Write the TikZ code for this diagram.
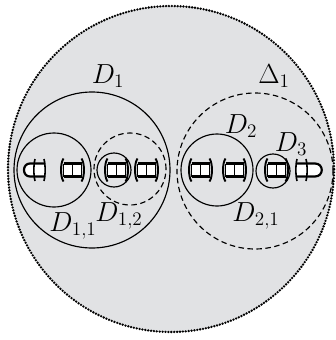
\documentclass[tikz,border=0pt]{standalone}
\usepackage{graphicx}
\definecolor{bggray}{RGB}{225,226,228}
\newcommand\biglab[1]{\scalebox{1.33}{\huge$#1$}}
\begin{document}
\begin{tikzpicture}[x=1pt,y=-1pt,
  circ/.style={line width=1.15pt},
  dcirc/.style={line width=1.15pt, dash pattern=on 5.5pt off 3.5pt},
  lab/.style={inner sep=0pt},
  bandline/.style={line width=2.2pt},
  barline/.style={line width=1.6pt},
  arcline/.style={line width=1.9pt},
  dotborder/.style={line width=2.6pt, dash pattern=on 0pt off 2.9pt, line cap=round}]
\useasboundingbox (0,0) rectangle (336,340);
% outer disk
\fill[bggray] (171,169) circle (163pt);
\draw[dotborder] (171,169) circle (163pt);
% chain units
\foreach \a/\b in {61/84,105/128,135/158,189/212,223/246,265/288}{
  \pgfmathsetmacro\m{(\a+\b)/2}
  \fill[white] (\a+2.5,163.5) rectangle (\b-2.5,176.5);
  \draw[bandline] (\a+2.5,163.5) -- (\b-2.5,163.5) (\a+2.5,176.5) -- (\b-2.5,176.5);
  \draw[barline] (\a+2.5,163.5) -- (\a+2.5,176.5) (\m,163.5) -- (\m,176.5) (\b-2.5,163.5) -- (\b-2.5,176.5);
  \draw[arcline] (\a+2.5,158.5) .. controls (\a-0.8,163) and (\a-0.8,177) .. (\a+2.5,181.5);
  \draw[arcline] (\b-2.5,158.5) .. controls (\b+0.8,163) and (\b+0.8,177) .. (\b-2.5,181.5);
}
% left end
\fill[white] (45,163.5) -- (30,163.5) .. controls (22,163.5) and (22,176.5) .. (30,176.5) -- (45,176.5) -- cycle;
\draw[bandline] (45,163.5) -- (30,163.5) .. controls (22,163.5) and (22,176.5) .. (30,176.5) -- (45,176.5);
\draw[barline] (35,159) .. controls (33.5,165) and (33.5,175) .. (35,181);
\draw[barline] (44,159) .. controls (45.5,165) and (45.5,175) .. (44,181);
% right end
\fill[white] (296,163.5) -- (315,163.5) .. controls (324,163.5) and (324,176.5) .. (315,176.5) -- (296,176.5) -- cycle;
\draw[bandline] (296,163.5) -- (315,163.5) .. controls (324,163.5) and (324,176.5) .. (315,176.5) -- (296,176.5);
\draw[barline] (297,159) .. controls (295.5,165) and (295.5,175) .. (297,181);
\draw[barline] (306,159) .. controls (307.5,165) and (307.5,175) .. (306,181);
% circles
\draw[circ] (92,170) circle (78pt);
\draw[circ] (54,170) circle (37pt);
\draw[dcirc] (130,169) circle (36pt);
\draw[circ] (114,170) circle (17pt);
\draw[dcirc] (255,171) circle (78pt);
\draw[circ] (217,170) circle (36pt);
\draw[circ] (273,171) circle (17pt);
% labels
\node[lab] (lD1) at (108,76) {\biglab{D_1}};
\node[lab] (lDelta) at (274,76) {\biglab{\Delta_1}};
\node[lab] (lD2) at (241,126) {\biglab{D_2}};
\node[lab] (lD3) at (291,144) {\biglab{D_3}};
\node[lab] (lD11) at (73,226) {\biglab{D_{1,1}}};
\node[lab] (lD12) at (119,216) {\biglab{D_{1,2}}};
\node[lab] (lD21) at (256,216) {\biglab{D_{2,1}}};
\end{tikzpicture}
\end{document}
